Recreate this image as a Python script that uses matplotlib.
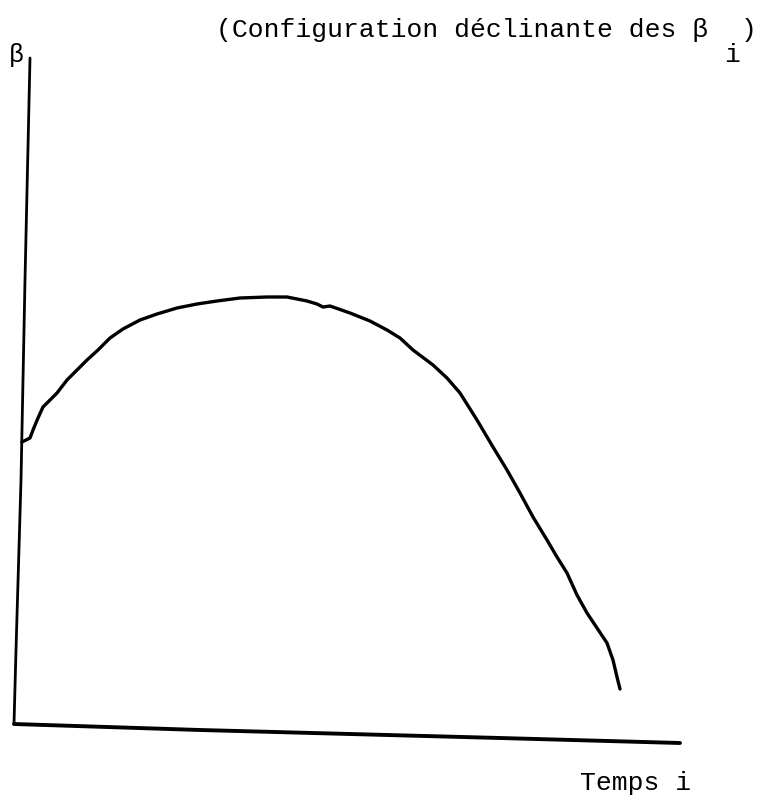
import matplotlib
matplotlib.use("Agg")
import matplotlib.pyplot as plt

# Hand-drawn sketch, traced in image pixel coordinates (x right, y down)
W, H = 764, 799

# Vertical axis (beta), slightly slanted
yaxis_x = [30, 25, 21, 16, 14]
yaxis_y = [58, 280, 480, 650, 724]

# Horizontal axis (time), slanted downwards to the right
xaxis_x = [14, 200, 500, 680]
xaxis_y = [724, 730, 738, 743]

# Declining configuration of the beta_i
curve_x = [22, 30, 33, 38, 43, 50, 57, 67, 77, 87, 98, 110, 123, 140, 157,
           177, 197, 217, 240, 267, 287, 307, 317, 323, 330, 350, 370, 387,
           400, 413, 433, 447, 460, 477, 493, 507, 520, 533, 547, 557, 567,
           577, 587, 597, 607, 613, 617, 620]
curve_y = [442, 438, 430, 418, 407, 400, 393, 380, 370, 360, 350, 338, 329,
           320, 314, 308, 304, 301, 298, 297, 297, 301, 304, 307, 306, 313,
           321, 330, 338, 350, 365, 378, 393, 420, 447, 470, 493, 517, 540,
           557, 573, 595, 613, 628, 643, 660, 677, 689]

title_text = "(Configuration déclinante des β"
title_sub = "i"
title_close = ")"
ylabel_text = "β"
xlabel_text = "Temps i"

fig = plt.figure(figsize=(W / 100, H / 100), dpi=100)
ax = fig.add_axes([0, 0, 1, 1])
ax.set_xlim(0, W)
ax.set_ylim(H, 0)
ax.axis("off")

ax.plot(yaxis_x, yaxis_y, color="black", lw=2.0, solid_capstyle="round")
ax.plot(xaxis_x, xaxis_y, color="black", lw=2.8, solid_capstyle="round")
ax.plot(curve_x, curve_y, color="black", lw=2.4, solid_capstyle="round",
        solid_joinstyle="round")

mono = "Liberation Mono"
ax.text(216, 37, title_text, family=mono, fontsize=19, ha="left", va="baseline")
ax.text(724, 62, title_sub, family=mono, fontsize=19, ha="left", va="baseline")
ax.text(741, 37, title_close, family=mono, fontsize=19, ha="left", va="baseline")

ax.text(9, 62, ylabel_text, family=mono, fontsize=18, ha="left", va="baseline")
ax.text(580, 790, xlabel_text, family=mono, fontsize=19, ha="left", va="baseline")

fig.savefig("out.png", dpi=100, facecolor="white")
